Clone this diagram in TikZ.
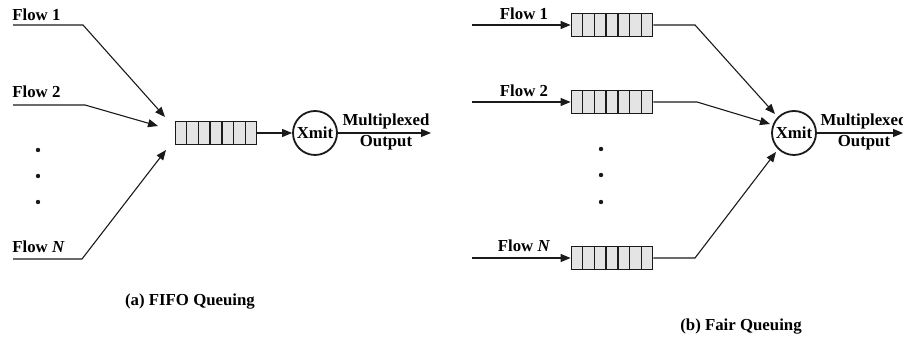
\documentclass[tikz,border=0pt]{standalone}
\usepackage{fontspec}
\setmainfont{Liberation Serif}
\usetikzlibrary{arrows.meta,calc}
\definecolor{qink}{HTML}{1A1A1A}
\definecolor{qfill}{HTML}{E4E4E4}
\tikzset{
  flowlabel/.style={font=\fontsize{8.4}{10}\selectfont\bfseries, inner sep=0pt},
  queue/.style={draw=qink, fill=qfill, line width=0.9pt, minimum width=40.5pt, minimum height=11.5pt, inner sep=0pt},
  xmit/.style={circle, draw=qink, line width=0.9pt, minimum size=22pt, inner sep=0pt, font=\fontsize{8.4}{10}\selectfont\bfseries},
  wire/.style={qink, line width=0.55pt},
  arrowwire/.style={wire, -{Triangle[length=5pt,width=4pt]}},
}
\newcommand{\queuecells}[1]{%
  \foreach \k in {1,...,6}
    \draw[qink, line width=0.7pt] ($(#1.south west)!\k/7!(#1.south east)$) -- ($(#1.north west)!\k/7!(#1.north east)$);
}
\newcommand{\vdot}[2]{\fill[qink] (#1,#2) circle (1.1pt);}

\begin{document}
\begin{tikzpicture}[x=0.5pt, y=-0.5pt]
  \useasboundingbox (0,0) rectangle (903,340);

  % (a) FIFO queuing
  \node[flowlabel, anchor=base west] (fa1) at (12,21) {Flow 1};
  \node[flowlabel, anchor=base west] (fa2) at (12,98) {Flow 2};
  \node[flowlabel, anchor=base west] (faN) at (12,253) {Flow \textit{N}};
  \coordinate (a1s) at (13,25);  \coordinate (a1k) at (83,25);  \coordinate (a1t) at (165,117);
  \coordinate (a2s) at (13,105); \coordinate (a2k) at (85,105); \coordinate (a2t) at (158,126);
  \coordinate (aNs) at (13,259); \coordinate (aNk) at (82,259); \coordinate (aNt) at (166,150);
  \draw[arrowwire] (a1s) -- (a1k) -- (a1t);
  \draw[arrowwire] (a2s) -- (a2k) -- (a2t);
  \draw[arrowwire] (aNs) -- (aNk) -- (aNt);
  \vdot{38}{150} \vdot{38}{176} \vdot{38}{202}

  \node[queue] (qa) at (216,133) {};
  \queuecells{qa}
  \node[xmit] (xa) at (315,133) {Xmit};
  \coordinate (oa) at (431,133);
  \draw[arrowwire] (qa.east) -- (xa.west);
  \draw[arrowwire] (xa.east) -- (oa);
  \node[flowlabel, anchor=base] (ma) at (386,126) {Multiplexed};
  \node[flowlabel, anchor=base] (pa) at (386,147) {Output};

  \node[flowlabel] (capa) at (190,302) {(a) FIFO Queuing};

  % (b) Fair queuing
  \node[flowlabel, anchor=base] (fb1) at (524,20) {Flow 1};
  \node[flowlabel, anchor=base] (fb2) at (524,97) {Flow 2};
  \node[flowlabel, anchor=base] (fbN) at (524,252) {Flow \textit{N}};
  \node[queue] (q1) at (612,25) {};
  \node[queue] (q2) at (612,102) {};
  \node[queue] (qN) at (612,258) {};
  \queuecells{q1} \queuecells{q2} \queuecells{qN}
  \coordinate (b1s) at (472,25);  \coordinate (b2s) at (472,102); \coordinate (bNs) at (472,258);
  \draw[arrowwire] (b1s) -- (q1.west);
  \draw[arrowwire] (b2s) -- (q2.west);
  \draw[arrowwire] (bNs) -- (qN.west);
  \vdot{601}{149} \vdot{601}{175} \vdot{601}{202}

  \node[xmit] (xb) at (794,133) {Xmit};
  \coordinate (b1k) at (695,25);  \coordinate (b1t) at (775,114);
  \coordinate (b2k) at (697,102); \coordinate (b2t) at (770,124);
  \coordinate (bNk) at (695,258); \coordinate (bNt) at (776,152);
  \draw[arrowwire] (q1.east) -- (b1k) -- (b1t);
  \draw[arrowwire] (q2.east) -- (b2k) -- (b2t);
  \draw[arrowwire] (qN.east) -- (bNk) -- (bNt);
  \coordinate (ob) at (903,133);
  \draw[arrowwire] (xb.east) -- (ob);
  \node[flowlabel, anchor=base] (mb) at (864,126) {Multiplexed};
  \node[flowlabel, anchor=base] (pb) at (864,147) {Output};

  \node[flowlabel] (capb) at (741,327) {(b) Fair Queuing};
\end{tikzpicture}
\end{document}
